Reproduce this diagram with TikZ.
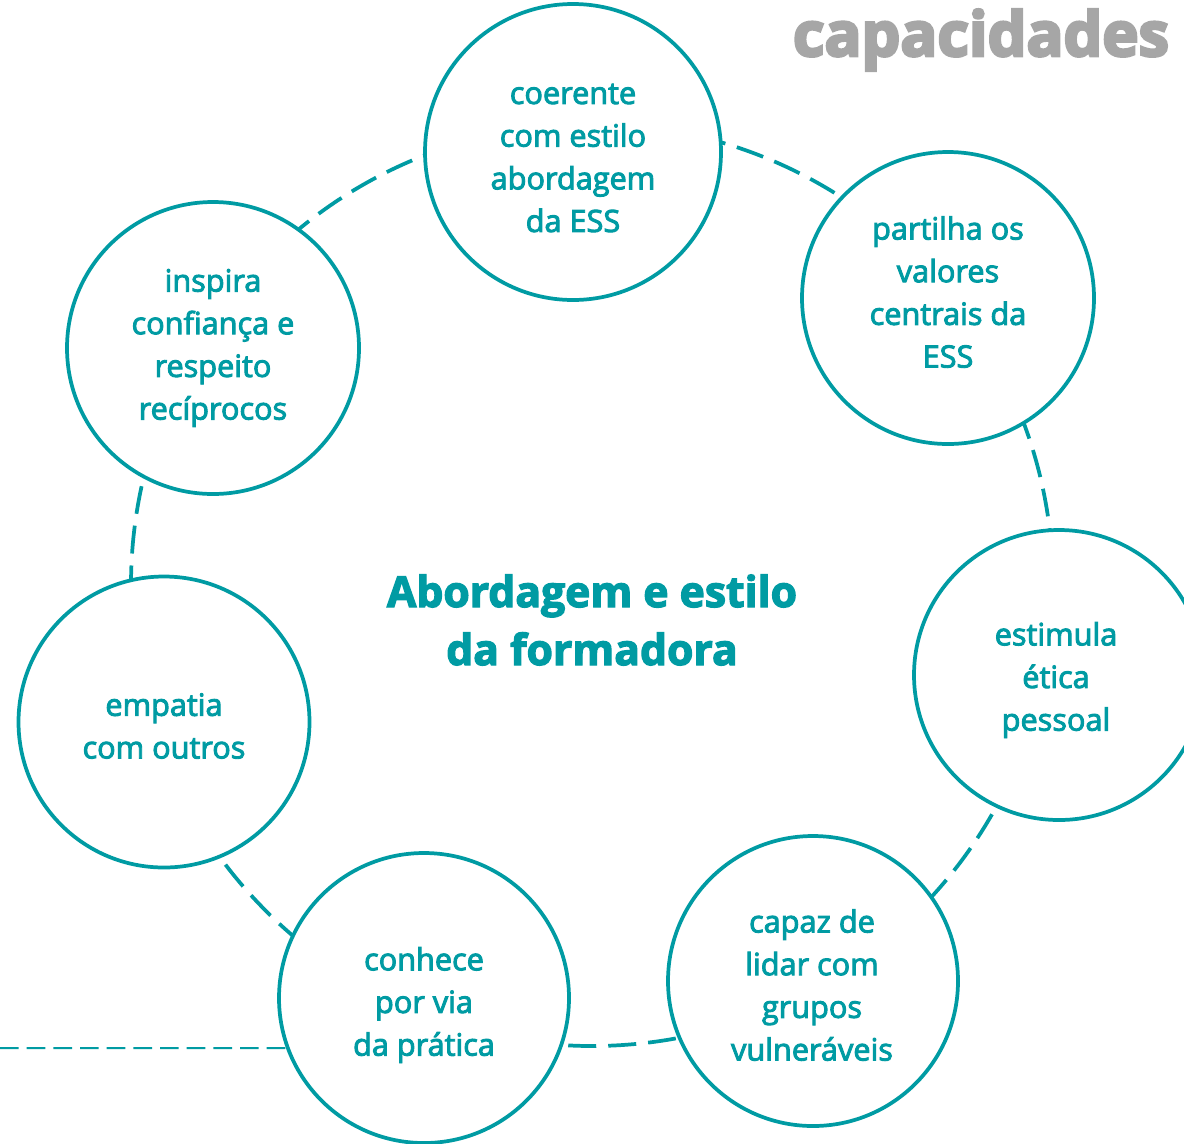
\documentclass[tikz,border=0pt]{standalone}
\usepackage{fontspec}
\setmainfont{Open Sans}
\newfontfamily\semifont{Open Sans}[FakeBold=3]
\newfontfamily\boldfont{Open Sans}[UprightFont={* Bold},FakeBold=3]
\newfontfamily\heavyfont{Open Sans}[UprightFont={* Bold},FakeBold=4.5]
\definecolor{teal1}{RGB}{0,155,163}
\definecolor{grey1}{RGB}{166,166,166}
\tikzset{
  bubble/.style={circle, draw=teal1, line width=2.8pt, fill=white, inner sep=0pt,
    minimum size=0.75*#1},
  btext/.style={align=center, text=teal1, inner sep=0pt,
    font=\semifont\fontsize{23}{32}\selectfont},
  ring/.style={draw=teal1, line width=2.8pt, dash pattern=on 21pt off 9pt},
  guide/.style={draw=teal1, line width=1.5pt, dash pattern=on 14pt off 6pt},
  titletext/.style={text=teal1, align=center, font=\boldfont\fontsize{32}{43.5}\selectfont},
  headtext/.style={text=grey1, font=\heavyfont\fontsize{46}{50}\selectfont}
}
\begin{document}
\begin{tikzpicture}[x=0.75pt,y=-0.75pt]
\useasboundingbox (0,0) rectangle (1184,1143);
\begin{scope}
\clip (0,0) rectangle (1184,1143);
\draw[ring] (592,585) circle[radius=461];
\node[bubble=296] (top) at (573,152) {};
\node[bubble=292] (partilha) at (948,298) {};
\node[bubble=290] (estimula) at (1059,675) {};
\node[bubble=290] (capaz) at (813,981) {};
\node[bubble=290] (conhece) at (424,998) {};
\node[bubble=291] (empatia) at (164,722) {};
\node[bubble=292] (inspira) at (213,348) {};
\node[btext] (top-t) at (573,158) {coerente\\com estilo\\abordagem\\da ESS};
\node[btext] (partilha-t) at (948,292) {partilha os\\valores\\centrais da\\ESS};
\node[btext] (estimula-t) at (1056,680) {estimula\\ética\\pessoal};
\node[btext] (capaz-t) at (812,985) {capaz de\\lidar com\\grupos\\vulneráveis};
\node[btext] (conhece-t) at (424,1005) {conhece\\por via\\da prática};
\node[btext] (empatia-t) at (164,726) {empatia\\com outros};
\node[btext] (inspira-t) at (213,348) {inspira\\confiança e\\respeito\\recíprocos};
\coordinate (lstart) at (0,1048);
\draw[guide] (lstart) -- (conhece.200.2);
\node[titletext] (title) at (592,620) {Abordagem e estilo\\da formadora};
\node[headtext] (head) at (981,40) {capacidades};
\end{scope}
\end{tikzpicture}
\end{document}
